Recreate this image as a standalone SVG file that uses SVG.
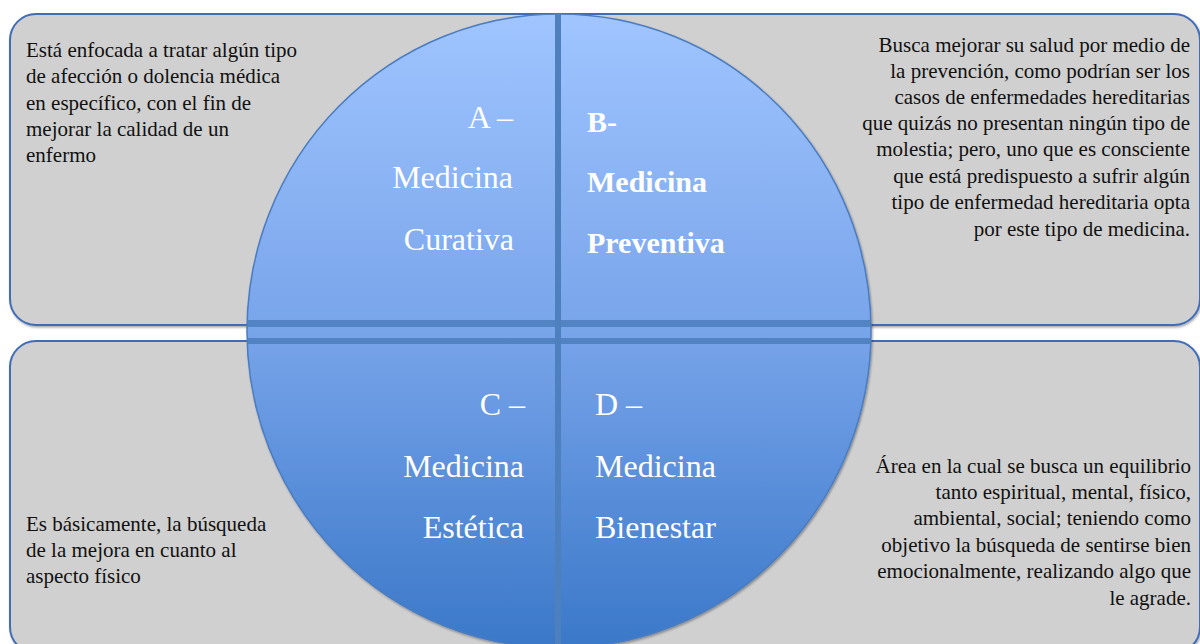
<svg xmlns="http://www.w3.org/2000/svg" width="1200" height="644" viewBox="0 0 1200 644">
<defs>
<linearGradient id="g" x1="0" y1="14" x2="0" y2="648" gradientUnits="userSpaceOnUse">
<stop offset="0" stop-color="#A0C5FF"/>
<stop offset="0.5" stop-color="#78A4EA"/>
<stop offset="1" stop-color="#3A78C8"/>
</linearGradient>
<filter id="sh" x="-5%" y="-5%" width="110%" height="110%">
<feDropShadow dx="1" dy="1.5" stdDeviation="1.2" flood-color="#000" flood-opacity="0.35"/>
</filter>
<clipPath id="cc"><ellipse cx="559" cy="331" rx="312" ry="317"/></clipPath>
</defs>
<style>
.box{fill:#D0D0D0;stroke:#3F6CB8;stroke-width:2;filter:url(#sh)}
.desc{font-family:"Liberation Serif","Times New Roman",serif;font-size:21px;fill:#111}
.lbl{font-family:"Liberation Serif","Times New Roman",serif;font-size:32px;fill:#fff}
.bold{font-weight:bold;font-size:30px}
.band{fill:#4E80BE}
</style>
<g id="box-top">
<rect class="box" x="10" y="14" width="1190" height="311" rx="26"/>
</g>
<g id="box-bottom">
<rect class="box" x="10" y="341" width="1190" height="312" rx="26"/>
</g>
<g id="circle">
<ellipse cx="559" cy="331" rx="312" ry="317" fill="url(#g)" stroke="#4A7CC0" stroke-width="1.5" filter="url(#sh)"/>
<g clip-path="url(#cc)">
<rect class="band" x="240" y="320" width="640" height="7" opacity="0.9"/>
<rect class="band" x="240" y="338" width="640" height="6" opacity="0.9"/>
<rect class="band" x="555" y="0" width="6" height="660"/>
</g>
</g>
<g id="node-a">
<text class="lbl" text-anchor="end" x="513" y="128">A –</text>
<text class="lbl" text-anchor="end" x="513" y="188">Medicina</text>
<text class="lbl" text-anchor="end" x="514" y="250">Curativa</text>
<text class="desc" x="26" y="57">Está enfocada a tratar algún tipo</text>
<text class="desc" x="26" y="83">de afección o dolencia médica</text>
<text class="desc" x="26" y="110">en específico, con el fin de</text>
<text class="desc" x="26" y="136">mejorar la calidad de un</text>
<text class="desc" x="26" y="162">enfermo</text>
</g>
<g id="node-b">
<text class="lbl bold" x="587" y="132">B-</text>
<text class="lbl bold" x="587" y="192">Medicina</text>
<text class="lbl bold" x="587" y="253">Preventiva</text>
<g class="desc" text-anchor="end">
<text x="1190" y="52">Busca mejorar su salud por medio de</text>
<text x="1190" y="78">la prevención, como podrían ser los</text>
<text x="1190" y="104">casos de enfermedades hereditarias</text>
<text x="1190" y="130">que quizás no presentan ningún tipo de</text>
<text x="1190" y="156">molestia; pero, uno que es consciente</text>
<text x="1190" y="183">que está predispuesto a sufrir algún</text>
<text x="1190" y="209">tipo de enfermedad hereditaria opta</text>
<text x="1190" y="236">por este tipo de medicina.</text>
</g>
</g>
<g id="node-c">
<text class="lbl" text-anchor="end" x="525" y="415">C –</text>
<text class="lbl" text-anchor="end" x="524" y="477">Medicina</text>
<text class="lbl" text-anchor="end" x="524" y="538">Estética</text>
<text class="desc" x="26" y="531">Es básicamente, la búsqueda</text>
<text class="desc" x="26" y="557">de la mejora en cuanto al</text>
<text class="desc" x="26" y="583">aspecto físico</text>
</g>
<g id="node-d">
<text class="lbl" x="595" y="415">D –</text>
<text class="lbl" x="595" y="477">Medicina</text>
<text class="lbl" x="595" y="538">Bienestar</text>
<g class="desc" text-anchor="end">
<text x="1191" y="473">Área en la cual se busca un equilibrio</text>
<text x="1191" y="499">tanto espiritual, mental, físico,</text>
<text x="1191" y="525">ambiental, social; teniendo como</text>
<text x="1191" y="552">objetivo la búsqueda de sentirse bien</text>
<text x="1191" y="578">emocionalmente, realizando algo que</text>
<text x="1191" y="605">le agrade.</text>
</g>
</g>
<g id="connectors"></g>
</svg>
